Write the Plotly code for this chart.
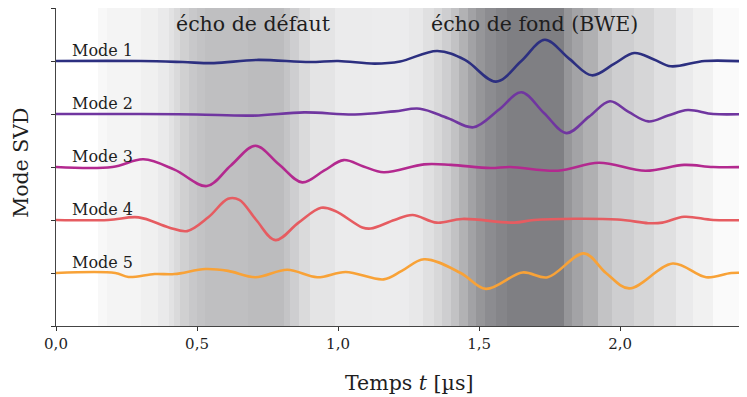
import plotly.graph_objects as go

# ---------------- data ----------------
modes = ["Mode 1", "Mode 2", "Mode 3", "Mode 4", "Mode 5"]
offsets = [5, 4, 3, 2, 1]
colors = ["#2c2f80", "#7036a0", "#b3298f", "#e65c61", "#f8a237"]

t_m1 = [0.0, 0.30, 0.45, 0.56, 0.71, 0.90, 1.00, 1.13, 1.22, 1.352, 1.45, 1.56, 1.65, 1.733, 1.82, 1.90, 1.98, 2.05, 2.12, 2.18, 2.30, 2.45]
v_m1 = [0.0, 0.0, -0.02, -0.04, 0.02, -0.02, 0.0, -0.05, -0.01, 0.19, 0.02, -0.39, 0.0, 0.40, 0.04, -0.27, -0.05, 0.15, 0.03, -0.10, 0.0, -0.01]

t_m2 = [0.0, 0.30, 0.50, 0.70, 0.88, 1.06, 1.20, 1.29, 1.39, 1.48, 1.57, 1.65, 1.73, 1.81, 1.89, 1.964, 2.03, 2.10, 2.17, 2.24, 2.33, 2.45]
v_m2 = [0.0, 0.0, -0.01, -0.03, 0.03, -0.01, 0.05, 0.10, -0.08, -0.25, 0.08, 0.41, 0.02, -0.36, -0.05, 0.24, 0.04, -0.14, -0.03, 0.075, 0.0, 0.0]

t_m3 = [0.0, 0.20, 0.31, 0.42, 0.535, 0.62, 0.707, 0.79, 0.873, 0.95, 1.02, 1.09, 1.162, 1.305, 1.40, 1.54, 1.61, 1.78, 1.925, 2.09, 2.227, 2.33, 2.45]
v_m3 = [0.0, 0.0, 0.145, -0.05, -0.36, 0.03, 0.40, 0.05, -0.29, -0.07, 0.13, 0.01, -0.10, 0.05, 0.04, -0.02, 0.0, -0.07, 0.08, -0.07, 0.04, 0.0, 0.0]

t_m4 = [0.0, 0.185, 0.293, 0.40, 0.465, 0.54, 0.61, 0.65, 0.71, 0.778, 0.86, 0.94, 0.99, 1.086, 1.116, 1.20, 1.264, 1.35, 1.44, 1.625, 1.695, 1.99, 2.10, 2.15, 2.227, 2.33, 2.45]
v_m4 = [0.0, 0.0, 0.05, -0.14, -0.21, 0.05, 0.40, 0.38, 0.0, -0.38, -0.05, 0.23, 0.17, -0.14, -0.16, 0.0, 0.094, -0.05, 0.02, -0.05, 0.0, 0.01, -0.06, -0.05, 0.06, 0.0, 0.0]

t_m5 = [0.0, 0.21, 0.257, 0.35, 0.42, 0.53, 0.61, 0.707, 0.82, 0.926, 1.027, 1.162, 1.226, 1.305, 1.435, 1.524, 1.654, 1.743, 1.872, 1.95, 2.032, 2.187, 2.305, 2.394, 2.45]
v_m5 = [0.0, 0.0, -0.075, -0.02, -0.02, 0.075, 0.04, -0.08, 0.06, -0.08, 0.02, -0.12, 0.04, 0.26, 0.0, -0.30, 0.01, -0.08, 0.37, 0.0, -0.29, 0.18, -0.08, 0.0, 0.0]

mode_t = [t_m1, t_m2, t_m3, t_m4, t_m5]
mode_v = [v_m1, v_m2, v_m3, v_m4, v_m5]

# background shading bands (edges in µs, gray level 0-255)
band_edges = [0.0, 0.15, 0.18, 0.30, 0.36, 0.40, 0.42, 0.44, 0.47, 0.50, 0.53, 0.68, 0.81, 0.83,
              0.86, 0.90, 0.99, 1.12, 1.25, 1.30, 1.34, 1.37, 1.40, 1.43, 1.46, 1.49, 1.52, 1.56,
              1.60, 1.80, 1.83, 1.87, 1.92, 1.97, 2.05, 2.12, 2.20, 2.26, 2.33, 2.45]
band_gray = [255, 248, 244, 240, 234, 226, 218, 208, 200, 195, 191, 188, 196,
             206, 218, 228, 235, 236, 232, 224, 216, 206, 194, 178, 162, 150, 140,
             133, 127, 150, 163, 176, 195, 206, 214, 224, 234, 241, 250]

x_ticks = [0.0, 0.5, 1.0, 1.5, 2.0]
x_tick_text = ["0,0", "0,5", "1,0", "1,5", "2,0"]

regions = [("écho de défaut", 0.699), ("écho de fond (BWE)", 1.698)]

# ---------------- figure ----------------
FONT = "DejaVu Serif"
TXT = "#1e1e1e"
fig = go.Figure()

fig.add_trace(go.Heatmap(
    x=band_edges, y=[0, 6], z=[band_gray],
    zmin=0, zmax=255, zsmooth=False, showscale=False, hoverinfo="skip",
    colorscale=[[0, "rgb(0,0,8)"], [1, "rgb(255,255,255)"]],
))

for name, off, col, tt, vv in zip(modes, offsets, colors, mode_t, mode_v):
    fig.add_trace(go.Scatter(
        x=tt, y=[off + v for v in vv], mode="lines", name=name,
        line=dict(color=col, width=2.6, shape="spline", smoothing=1.0),
        showlegend=False,
    ))
    fig.add_annotation(x=0.051, y=off, text=name, showarrow=False,
                       xanchor="left", yanchor="bottom", yshift=-1,
                       font=dict(family=FONT, size=16, color=TXT))

for txt, xc in regions:
    fig.add_annotation(x=xc, y=5.70, text=txt, showarrow=False,
                       xanchor="center", yanchor="middle",
                       font=dict(family=FONT, size=20.5, color=TXT))

fig.add_annotation(xref="paper", yref="paper", x=0.511, y=-0.179,
                   text="Temps <i>t</i> [µs]", showarrow=False,
                   xanchor="center", yanchor="middle",
                   font=dict(family=FONT, size=20.5, color=TXT))
fig.add_annotation(xref="paper", yref="paper", x=-0.0507, y=0.513,
                   text="Mode SVD", showarrow=False, textangle=-90,
                   xanchor="center", yanchor="middle",
                   font=dict(family=FONT, size=20.5, color=TXT))

fig.update_xaxes(range=[0, 2.45], tickvals=x_ticks, ticktext=x_tick_text,
                 ticks="outside", ticklen=4, tickcolor="#333",
                 showline=True, linecolor="#444", linewidth=1.2, mirror=True,
                 showgrid=False, zeroline=False,
                 tickfont=dict(family=FONT, size=15, color=TXT))
fig.update_yaxes(range=[0, 6], tickvals=[0, 1, 2, 3, 4, 5, 6], showticklabels=False,
                 ticks="outside", ticklen=4, tickcolor="#333",
                 showline=True, linecolor="#444", linewidth=1.2,
                 showgrid=False, zeroline=False)

fig.update_layout(width=739, height=389,
                  margin=dict(l=48, r=0, t=0, b=71),
                  paper_bgcolor="white", plot_bgcolor="white")

fig.write_html("out.html")
